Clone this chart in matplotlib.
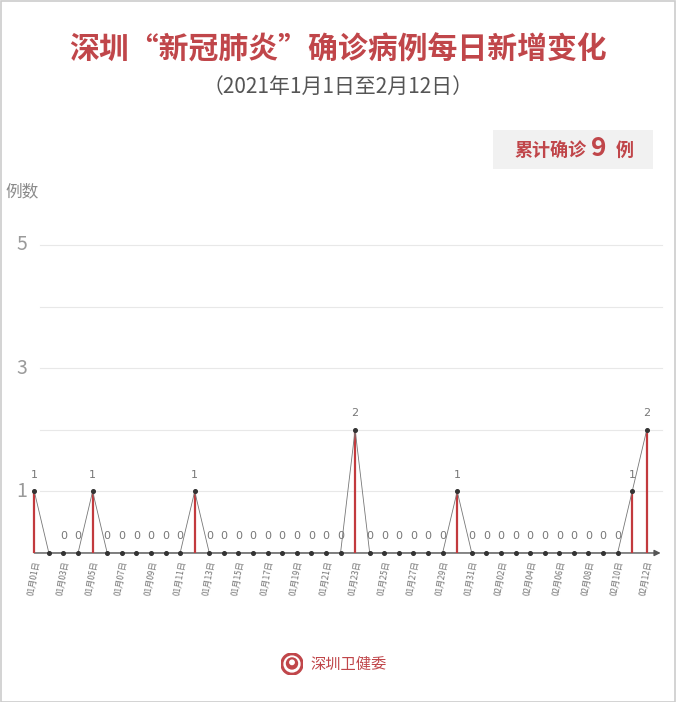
import matplotlib
matplotlib.use("Agg")
import matplotlib.pyplot as plt
import pandas as pd
from matplotlib.patches import Rectangle, Circle

plt.rcParams["font.family"] = ["Noto Sans CJK SC", "DejaVu Sans"]

# daily new confirmed cases, 2021-01-01 .. 2021-02-12
dates = pd.date_range("2021-01-01", "2021-02-12").strftime("%m月%d日").tolist()
cases = [1, 0, 0, 0, 1, 0, 0, 0, 0, 0,
         0, 1, 0, 0, 0, 0, 0, 0, 0, 0,
         0, 0, 2, 0, 0, 0, 0, 0, 0, 1,
         0, 0, 0, 0, 0, 0, 0, 0, 0, 0,
         0, 1, 2]
no_label = [1]          # point whose value label is not shown
y_ticks = [1, 3, 5]
grid_levels = [1, 2, 3, 4, 5]
total = 9

RED = "#c0464a"
BAR_RED = "#c23a3e"

W, H = 677, 702
fig = plt.figure(figsize=(W / 100, H / 100), dpi=100)
fig.patch.set_facecolor("white")

# axes: x=0 at px 34.3, 14.58 px per day; y=0 at px 553, 61.6 px per case
ax = fig.add_axes([20 / W, 1 - 560 / H, 645 / W, 360 / H])
ax.set_xlim(-0.98, 43.25)
ax.set_ylim(-0.114, 5.73)
ax.axis("off")

x = list(range(len(cases)))

for g in grid_levels:
    ax.plot([0.39, 43.05], [g, g], color="#e8e8e8", lw=0.8, zorder=0)

for t in y_ticks:
    ax.text(-0.84, t, str(t), ha="center", va="center", fontsize=14,
            color="#9a9a9a", clip_on=False)
ax.text(-0.84, 5.87, "例数", ha="center", va="center", fontsize=12,
        color="#8a8a8a", clip_on=False)

# base axis with arrow
ax.annotate("", xy=(42.95, 0), xytext=(0, 0),
            arrowprops=dict(arrowstyle="-|>", color="#555555", lw=1,
                            mutation_scale=9, shrinkA=0, shrinkB=0), zorder=2)

# red stems for non-zero days
for xi, v in zip(x, cases):
    if v > 0:
        ax.vlines(xi, 0, v, color=BAR_RED, lw=1.6, zorder=3)

ax.plot(x, cases, color="#777777", lw=0.6, zorder=4)
ax.plot(x, cases, "o", color="#333333", ms=2.6, zorder=5)

for xi, v in zip(x, cases):
    if xi in no_label:
        continue
    ax.text(xi, v + 0.27, str(v), ha="center", va="center", fontsize=8,
            color="#777777", family=["Liberation Sans Narrow", "DejaVu Sans"])

# rotated date labels, every other day
for xi in x[::2]:
    ax.text(xi + 0.2, -0.13, dates[xi], rotation=80, rotation_mode="anchor",
            ha="right", va="center", fontsize=6, color="#777777",
            style="italic", clip_on=False)

# titles
fig.text(338 / W, 1 - 50 / H, "深圳“新冠肺炎”确诊病例每日新增变化", ha="center",
         va="center", fontsize=21.5, fontweight="bold", color=RED)
fig.text(338 / W, 1 - 87 / H, "（2021年1月1日至2月12日）", ha="center",
         va="center", fontsize=15, color="#555555")

# total box
fig.patches.append(Rectangle((493 / W, 1 - 169 / H), 160 / W, 39 / H,
                             transform=fig.transFigure, facecolor="#f1f1f1",
                             edgecolor="none", zorder=0))
fig.text(586 / W, 1 - 150 / H, "累计确诊", ha="right", va="center",
         fontsize=13, fontweight="bold", color=RED)
fig.text(599 / W, 1 - 149 / H, str(total), ha="center", va="center",
         fontsize=19, fontweight="bold", color=RED)
fig.text(625 / W, 1 - 150 / H, "例", ha="center", va="center",
         fontsize=13, fontweight="bold", color=RED)

# footer logo + name
lax = fig.add_axes([281 / W, 1 - 675 / H, 22 / W, 22 / H])
lax.set_xlim(-1, 1); lax.set_ylim(-1, 1); lax.set_aspect("equal"); lax.axis("off")
lax.add_patch(Circle((0, 0), 1, color=RED))
lax.add_patch(Circle((0, 0), 0.72, color="white"))
lax.add_patch(Circle((0, 0.05), 0.5, color=RED))
lax.add_patch(Circle((0, 0.15), 0.2, color="white"))
fig.text(310 / W, 1 - 664 / H, "深圳卫健委", ha="left", va="center",
         fontsize=11, color=RED)

# thin frame around the picture
fig.patches.append(Rectangle((0.5 / W, 0.5 / H), (W - 2.5) / W, (H - 1) / H,
                             transform=fig.transFigure, facecolor="none",
                             edgecolor="#cccccc", lw=1.2))

fig.savefig("out.png", dpi=100)
